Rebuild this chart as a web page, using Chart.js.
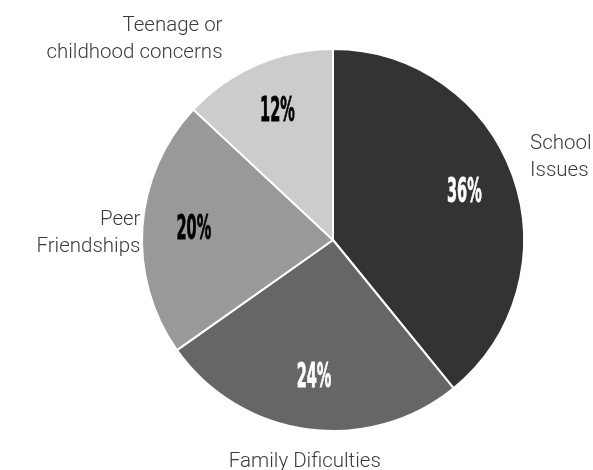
<!DOCTYPE html>
<html>
<head>
<meta charset="utf-8">
<script src="https://cdn.jsdelivr.net/npm/chart.js@4"></script>
<style>
  html, body { margin: 0; padding: 0; background: #fff; }
  #wrap { width: 593px; height: 470px; }
</style>
</head>
<body>
<div id="wrap"><canvas id="pieChart" width="593" height="470"></canvas></div>
<script>
var categories = [
  ["School", "Issues"],
  ["Family Dificulties"],
  ["Peer", "Friendships"],
  ["Teenage or", "childhood concerns"]
];
var shares = [36, 24, 20, 12];
var sliceColors = ["#333333", "#666666", "#999999", "#cccccc"];
var valueColors = ["#ffffff", "#ffffff", "#000000", "#000000"];
// small nudges for the outside labels (dx, dy)
var labelNudge = [[2, -13], [0, 3], [14, 8], [-28, 16]];

var sliceLabels = {
  id: "sliceLabels",
  afterDatasetsDraw: function (chart) {
    var ctx = chart.ctx;
    var meta = chart.getDatasetMeta(0);
    meta.data.forEach(function (arc, i) {
      var mid = (arc.startAngle + arc.endAngle) / 2;
      var cx = arc.x, cy = arc.y, r = arc.outerRadius;
      var dx = Math.cos(mid), dy = Math.sin(mid);

      // percentage inside the slice
      var px = cx + dx * r * 0.73;
      var py = cy + dy * r * 0.73;
      ctx.save();
      ctx.translate(px, py);
      ctx.scale(0.44, 1);
      ctx.font = "bold 33px 'DejaVu Sans', sans-serif";
      ctx.fillStyle = valueColors[i];
      ctx.strokeStyle = valueColors[i];
      ctx.lineWidth = 0.8;
      ctx.textAlign = "center";
      ctx.textBaseline = "middle";
      ctx.fillText(shares[i] + "%", 0, 0);
      ctx.strokeText(shares[i] + "%", 0, 0);
      ctx.restore();

      // category outside the pie
      var lines = categories[i];
      var lh = 27;
      var ax = cx + dx * (r + 16) + labelNudge[i][0];
      var ay = cy + dy * (r + 16) + labelNudge[i][1];
      ctx.save();
      ctx.font = "300 20.5px Roboto, 'Liberation Sans', sans-serif";
      ctx.fillStyle = "#3a3a3a";
      ctx.textBaseline = "middle";
      if (Math.abs(dx) < 0.3) ctx.textAlign = "center";
      else ctx.textAlign = dx > 0 ? "left" : "right";
      var top;
      if (Math.abs(dy) < 0.5) top = ay - (lines.length - 1) * lh / 2;
      else if (dy < 0) top = ay - (lines.length - 1) * lh - lh / 2;
      else top = ay + lh / 2;
      lines.forEach(function (t, k) {
        ctx.fillText(t, ax, top + k * lh);
      });
      ctx.restore();
    });
  }
};

var ctx = document.getElementById("pieChart").getContext("2d");
new Chart(ctx, {
  type: "pie",
  data: {
    labels: categories.map(function (l) { return l.join(" "); }),
    datasets: [{
      data: shares,
      backgroundColor: sliceColors,
      borderColor: "#ffffff",
      borderWidth: 2
    }]
  },
  options: {
    responsive: false,
    animation: false,
    layout: { padding: { left: 141, right: 68, top: 48, bottom: 38 } },
    plugins: {
      legend: { display: false },
      tooltip: { enabled: false }
    }
  },
  plugins: [sliceLabels]
});
</script>
</body>
</html>
